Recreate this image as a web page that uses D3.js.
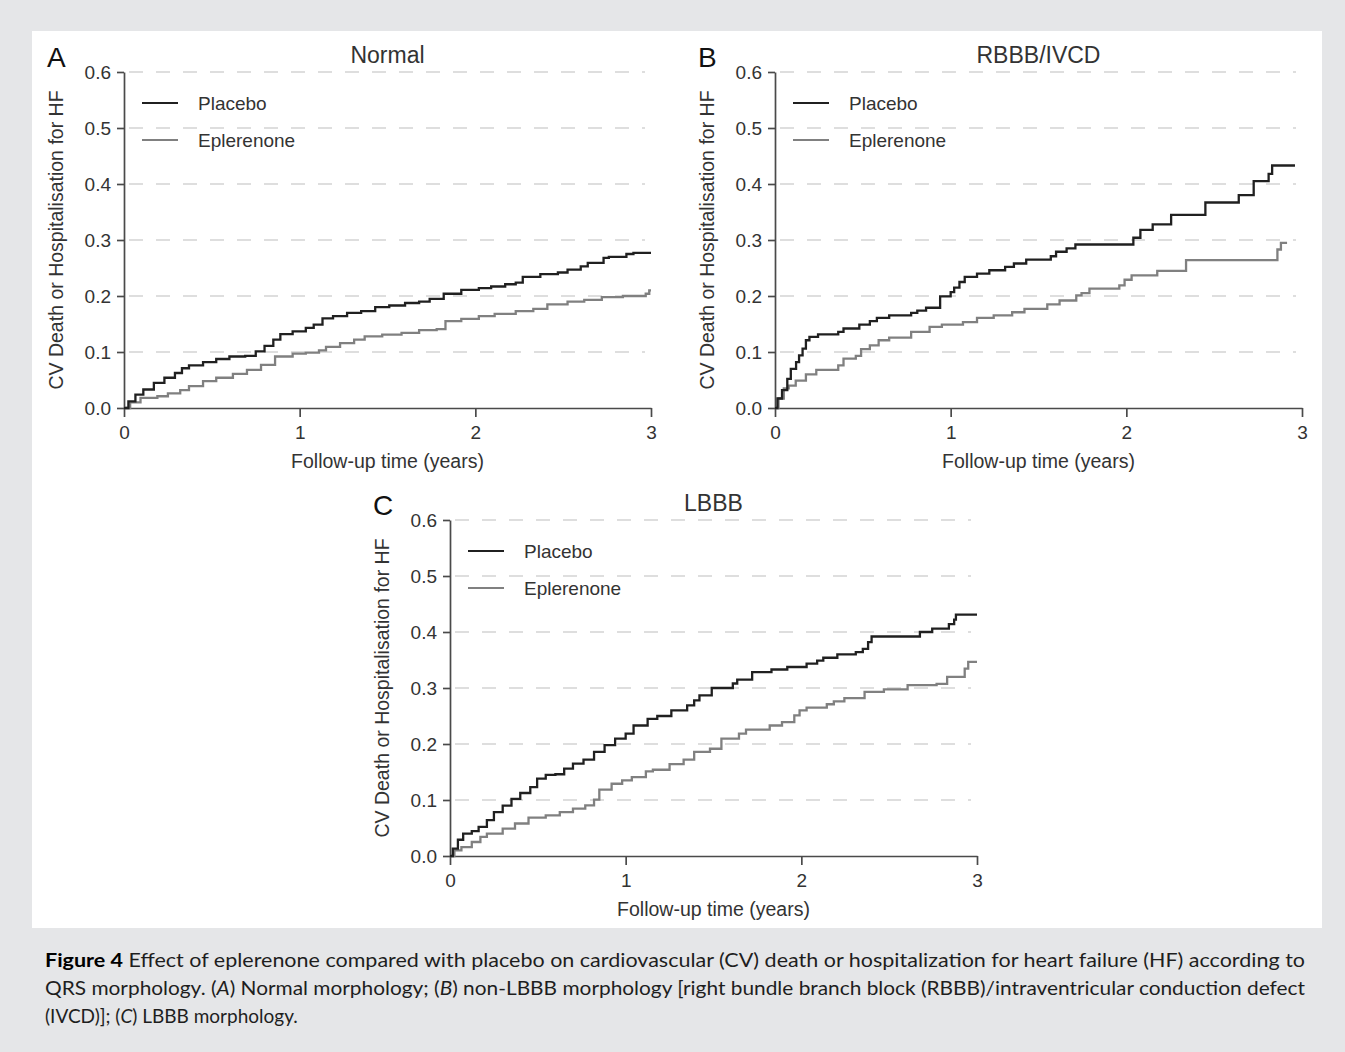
<!DOCTYPE html>
<html>
<head>
<meta charset="utf-8">
<script src="https://cdn.jsdelivr.net/npm/d3@7"></script>
<style>
  body { margin: 0; background: #e5e6e8; }
  svg { display: block; }
  .lab { font-family: "Liberation Sans", Arial, sans-serif; fill: #333; }
</style>
</head>
<body>
<svg id="fig" width="1345" height="1052"></svg>
<script>
// Kaplan-Meier style cumulative incidence, [years, value] at each step
var normalPlacebo = [[0,0],[0.025,0.012],[0.065,0.024],[0.11,0.033],[0.17,0.045],[0.23,0.054],[0.29,0.0625],
  [0.33,0.071],[0.37,0.076],[0.45,0.082],[0.525,0.0875],[0.6,0.092],[0.69,0.093],[0.75,0.101],[0.8,0.111],
  [0.85,0.122],[0.89,0.132],[0.96,0.137],[1.035,0.143],[1.08,0.149],[1.13,0.16],[1.19,0.164],[1.27,0.17],
  [1.35,0.173],[1.43,0.18],[1.51,0.183],[1.6,0.1875],[1.68,0.19],[1.74,0.195],[1.82,0.204],[1.92,0.211],
  [2.02,0.214],[2.09,0.217],[2.17,0.221],[2.23,0.224],[2.27,0.234],[2.37,0.239],[2.47,0.242],[2.525,0.247],
  [2.6,0.253],[2.64,0.259],[2.73,0.268],[2.76,0.27],[2.86,0.275],[2.9,0.277],[3.0,0.277]];
var normalEplerenone = [[0,0],[0.035,0.01],[0.094,0.018],[0.19,0.021],[0.25,0.026],[0.32,0.032],[0.37,0.039],
  [0.45,0.048],[0.525,0.054],[0.62,0.061],[0.7,0.068],[0.78,0.077],[0.86,0.092],[0.96,0.097],[1.035,0.099],
  [1.11,0.103],[1.15,0.109],[1.23,0.116],[1.31,0.122],[1.37,0.128],[1.47,0.131],[1.58,0.134],[1.68,0.139],
  [1.78,0.141],[1.83,0.155],[1.92,0.159],[2.02,0.164],[2.11,0.168],[2.23,0.173],[2.33,0.177],[2.41,0.185],
  [2.525,0.19],[2.62,0.193],[2.72,0.198],[2.84,0.2],[2.97,0.204],[2.99,0.21],[3.0,0.21]];

var rbbbPlacebo = [[0,0],[0.014,0.017],[0.04,0.032],[0.07,0.052],[0.09,0.07],[0.12,0.082],[0.137,0.094],
  [0.157,0.106],[0.176,0.121],[0.196,0.127],[0.245,0.1315],[0.36,0.136],[0.39,0.142],[0.48,0.149],[0.54,0.155],
  [0.58,0.161],[0.65,0.1655],[0.775,0.17],[0.81,0.174],[0.86,0.179],[0.94,0.1995],[1.0,0.207],[1.02,0.215],
  [1.05,0.225],[1.08,0.234],[1.15,0.24],[1.22,0.246],[1.31,0.252],[1.36,0.258],[1.43,0.265],[1.57,0.271],
  [1.6,0.279],[1.66,0.285],[1.71,0.292],[2.04,0.304],[2.08,0.318],[2.15,0.328],[2.255,0.345],[2.45,0.367],
  [2.64,0.38],[2.725,0.405],[2.81,0.418],[2.83,0.433],[2.96,0.433]];
var rbbbEplerenone = [[0,0],[0.02,0.017],[0.05,0.035],[0.078,0.04],[0.118,0.049],[0.176,0.06],[0.235,0.068],
  [0.36,0.076],[0.39,0.088],[0.46,0.093],[0.49,0.105],[0.54,0.112],[0.59,0.121],[0.65,0.1255],[0.775,0.136],
  [0.88,0.145],[0.95,0.149],[1.07,0.1535],[1.15,0.161],[1.245,0.1655],[1.35,0.171],[1.42,0.177],[1.55,0.185],
  [1.62,0.192],[1.715,0.201],[1.745,0.205],[1.79,0.213],[1.96,0.219],[1.99,0.229],[2.03,0.237],[2.176,0.245],
  [2.34,0.264],[2.86,0.283],[2.88,0.295],[2.915,0.295]];

var lbbbPlacebo = [[0,0],[0.016,0.013],[0.045,0.029],[0.075,0.04],[0.124,0.0445],[0.163,0.052],[0.21,0.064],
  [0.25,0.0785],[0.3,0.09],[0.35,0.102],[0.4,0.1125],[0.457,0.123],[0.496,0.138],[0.545,0.145],[0.6,0.146],
  [0.65,0.156],[0.7,0.165],[0.76,0.172],[0.82,0.186],[0.88,0.198],[0.94,0.2095],[1.0,0.2185],[1.045,0.233],
  [1.125,0.245],[1.18,0.25],[1.26,0.26],[1.35,0.269],[1.39,0.278],[1.42,0.287],[1.49,0.3],[1.61,0.308],
  [1.635,0.315],[1.72,0.3285],[1.83,0.333],[1.92,0.3375],[2.03,0.3435],[2.09,0.349],[2.125,0.354],[2.205,0.36],
  [2.31,0.364],[2.35,0.37],[2.38,0.382],[2.4,0.392],[2.675,0.4],[2.745,0.406],[2.84,0.414],[2.87,0.422],
  [2.88,0.431],[3.0,0.431]];
var lbbbEplerenone = [[0,0],[0.025,0.01],[0.065,0.016],[0.124,0.025],[0.173,0.034],[0.21,0.04],[0.3,0.049],
  [0.37,0.058],[0.447,0.0685],[0.545,0.0725],[0.625,0.0785],[0.7,0.0845],[0.77,0.0905],[0.82,0.1005],
  [0.85,0.1185],[0.92,0.129],[0.98,0.135],[1.035,0.141],[1.115,0.151],[1.155,0.154],[1.25,0.164],[1.33,0.172],
  [1.39,0.186],[1.48,0.1915],[1.545,0.2095],[1.645,0.2185],[1.685,0.2255],[1.82,0.233],[1.89,0.239],
  [1.96,0.251],[1.99,0.26],[2.03,0.265],[2.145,0.271],[2.185,0.276],[2.245,0.282],[2.36,0.293],[2.47,0.2975],
  [2.605,0.305],[2.77,0.3075],[2.83,0.32],[2.93,0.3345],[2.95,0.3465],[3.0,0.3465]];

var xTicks = [0, 1, 2, 3];
var yTicks = [0, 0.1, 0.2, 0.3, 0.4, 0.5, 0.6];
var seriesNames = ['Placebo', 'Eplerenone'];
var seriesColors = ['#202020', '#808080'];

var captionLines = [
  [['b', 'Figure 4'], ['', ' Effect of eplerenone compared with placebo on cardiovascular (CV) death or hospitalization for heart failure (HF) according to']],
  [['', 'QRS morphology. ('], ['i', 'A'], ['', ') Normal morphology; ('], ['i', 'B'], ['', ') non-LBBB morphology [right bundle branch block (RBBB)/intraventricular conduction defect']],
  [['', '(IVCD)]; ('], ['i', 'C'], ['', ') LBBB morphology.']]
];

var panels = [
  { letter: 'A', title: 'Normal', series: [normalPlacebo, normalEplerenone], left: 124, top: 72 },
  { letter: 'B', title: 'RBBB/IVCD', series: [rbbbPlacebo, rbbbEplerenone], left: 775, top: 72 },
  { letter: 'C', title: 'LBBB', series: [lbbbPlacebo, lbbbEplerenone], left: 450, top: 520 }
];

var plotW = 527, plotH = 336;
var svg = d3.select('#fig');

// white card behind the figure
svg.append('rect').attr('x', 32).attr('y', 31).attr('width', 1290).attr('height', 897).attr('fill', '#fff');

panels.forEach(function (p) {
  var g = svg.append('g').attr('transform', 'translate(' + p.left + ',' + p.top + ')');
  var x = d3.scaleLinear().domain([0, 3]).range([0, plotW]);
  var y = d3.scaleLinear().domain([0, 0.6]).range([plotH, 0]);

  // dashed reference lines
  g.selectAll('.grid').data(yTicks.slice(1)).enter().append('line')
    .attr('x1', x(0) + 5).attr('x2', x(3) - 6)
    .attr('y1', function (d) { return y(d); }).attr('y2', function (d) { return y(d); })
    .attr('stroke', '#d4d4d4').attr('stroke-width', 1.5).attr('stroke-dasharray', '14,13');

  var yAxis = g.append('g').call(d3.axisLeft(y).tickValues(yTicks).tickFormat(d3.format('.1f'))
    .tickSize(7).tickSizeOuter(0).tickPadding(6));
  var xAxis = g.append('g').attr('transform', 'translate(0,' + plotH + ')')
    .call(d3.axisBottom(x).tickValues(xTicks).tickFormat(d3.format('d'))
      .tickSize(9).tickSizeOuter(0).tickPadding(9));
  [yAxis, xAxis].forEach(function (a) {
    a.attr('font-family', null).attr('font-size', null);
    a.select('.domain').attr('stroke', '#4a4a4a').attr('stroke-width', 1.7);
    a.selectAll('.tick line').attr('stroke', '#4a4a4a').attr('stroke-width', 1.7);
    a.selectAll('.tick text').attr('class', 'lab').attr('fill', null).style('font-size', '19px');
  });

  var line = d3.line().curve(d3.curveStepAfter)
    .x(function (d) { return x(d[0]); }).y(function (d) { return y(d[1]); });

  // eplerenone underneath, placebo on top
  [1, 0].forEach(function (i) {
    g.append('path').datum(p.series[i]).attr('d', line)
      .attr('fill', 'none').attr('stroke', seriesColors[i]).attr('stroke-width', 2.3);
  });

  // legend
  seriesNames.forEach(function (name, i) {
    var ly = 31 + i * 37;
    g.append('line').attr('x1', 18).attr('x2', 54).attr('y1', ly).attr('y2', ly)
      .attr('stroke', seriesColors[i]).attr('stroke-width', 2.2);
    g.append('text').attr('class', 'lab').attr('x', 74).attr('y', ly + 7)
      .style('font-size', '19px').text(name);
  });

  g.append('text').attr('class', 'lab').attr('x', plotW / 2).attr('y', -9).attr('text-anchor', 'middle')
    .style('font-size', '23px').text(p.title);
  g.append('text').attr('class', 'lab').attr('x', -77).attr('y', -5).style('fill', '#111')
    .style('font-size', '28px').text(p.letter);
  g.append('text').attr('class', 'lab').attr('x', plotW / 2).attr('y', plotH + 60).attr('text-anchor', 'middle')
    .style('font-size', '19.5px').text('Follow-up time (years)');
  g.append('text').attr('class', 'lab').attr('transform', 'translate(-61,' + (plotH / 2) + ') rotate(-90)')
    .attr('text-anchor', 'middle').style('font-size', '19.5px')
    .text('CV Death or Hospitalisation for HF');
});

// caption
var cap = svg.append('g').attr('fill', '#1e1e1e').style('font-family', 'Lato, "Open Sans", sans-serif')
  .style('font-size', '19px');
captionLines.forEach(function (parts, i) {
  var t = cap.append('text').attr('x', 45).attr('y', 967 + i * 28);
  parts.forEach(function (pt) {
    var s = t.append('tspan').text(pt[1]);
    if (pt[0] === 'b') s.style('font-weight', 'bold').attr('fill', '#000');
    if (pt[0] === 'i') s.style('font-style', 'italic');
  });
  if (i < 2) t.attr('textLength', 1260).attr('lengthAdjust', 'spacingAndGlyphs');
});
</script>
</body>
</html>
